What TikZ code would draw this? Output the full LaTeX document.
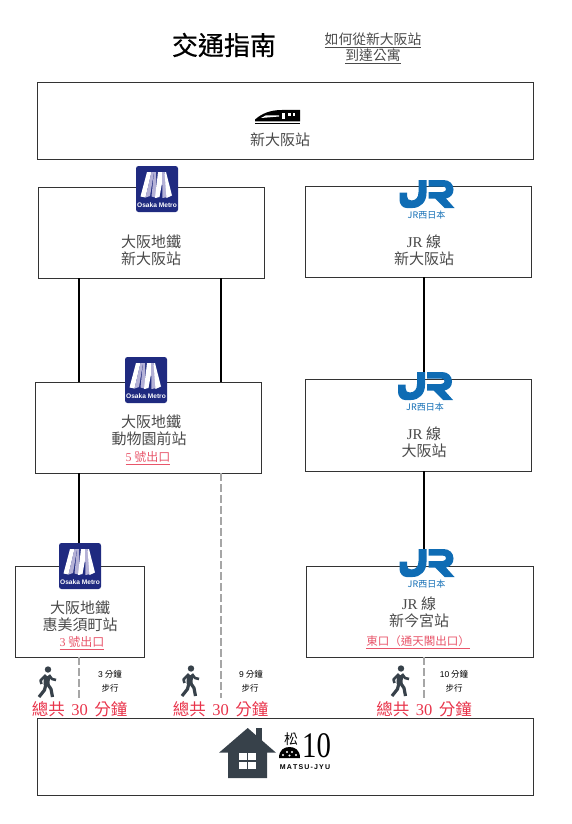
\documentclass[tikz,border=0pt]{standalone}
\usepackage{fontspec}
\setmainfont{Noto Sans CJK TC}
\newfontfamily\lat{Liberation Serif}
\newfontfamily\sanslat{Liberation Sans}
\newfontfamily\titlefont[FakeBold=0.6]{Noto Sans CJK TC}
\definecolor{navy}{HTML}{1F2A80}
\definecolor{lav}{HTML}{B4B1D6}
\definecolor{jrblue}{HTML}{0F6CB4}
\definecolor{slate}{HTML}{37414A}
\definecolor{redtxt}{HTML}{E8334A}
\definecolor{exttxt}{HTML}{E8556A}
\definecolor{greytxt}{HTML}{4A4A4A}
\newcommand{\fs}[1]{\fontsize{#1}{#1}\selectfont}
\newcommand{\ul}[1]{\underline{\raisebox{0pt}[\height][1.6pt]{#1}}}
\newcommand{\totaltext}{總共\hspace{6.5pt}{\lat 30}\hspace{6.5pt}分鐘}
\tikzset{
  x=1pt,y=-1pt,
  box/.style={draw=black!80,line width=1pt,fill=none,inner sep=0pt,outer sep=0pt},
  txt/.style={inner sep=0pt,outer sep=0pt,text=greytxt,font=\fs{15}},
  ext/.style={inner sep=0pt,outer sep=0pt,text=exttxt,font=\fs{12}},
  total/.style={inner sep=0pt,outer sep=0pt,text=redtxt,font=\fs{16.5}},
  mins/.style={inner sep=0pt,outer sep=0pt,text=black,font=\fs{8.5}},
  solidline/.style={draw=black,line width=2pt},
  walkline/.style={draw=black!35,line width=2pt,dash pattern=on 7.5pt off 3.5pt},
  metro/.pic={
    \fill[navy,rounded corners=2.5pt] (0,0) rectangle (42,46);
    \fill[white] (11,6) -- (15.5,6) -- (9.5,31.5) -- (4.5,30.5) -- cycle;
    \fill[lav] (15.5,6) -- (18,6) -- (14,30) -- (9.5,31.5) -- cycle;
    \fill[lav] (18,6) -- (20,6) -- (21,32) -- (15.5,30.5) -- cycle;
    \fill[white] (22,6) -- (28,6) -- (23.5,31) -- (19,32) -- cycle;
    \fill[lav] (26,6) -- (28.5,6) -- (31.5,31) -- (26.5,32) -- cycle;
    \fill[white] (28.5,6) -- (30,6) -- (36,29.5) -- (30.5,32) -- cycle;
    \node[inner sep=0pt,text=white,font=\sanslat\bfseries\fs{6.6}] (-t) at (21,39.5) {Osaka Metro};
  },
  jr/.pic={
    \fill[jrblue] (19,0) -- (27,0) -- (27,13) .. controls (27,22) and (21,28) .. (13,28) -- (7,28) .. controls (3,28) and (0,24) .. (0,20) -- (0,12.5) -- (7.5,12.5) -- (7.5,16) .. controls (7.5,19) and (9,20.5) .. (12,20.5) .. controls (16.5,20.5) and (19,17) .. (19,12) -- cycle;
    \fill[jrblue] (29,0) -- (44,0) .. controls (50,0) and (54,4) .. (54,9.5) .. controls (54,14.5) and (51,17.5) .. (46.5,18.5) -- (55,28) -- (45,28) -- (35.5,18.5) -- (29,18.5) -- (29,12) -- (43,12) .. controls (45.5,12) and (46.5,10.5) .. (46.5,9.25) .. controls (46.5,7.5) and (45.5,6.5) .. (43,6.5) -- (29,6.5) -- cycle;
    \node[inner sep=0pt,text=jrblue,font=\fs{9}] (-t) at (27,35) {JR西日本};
  },
  walker/.pic={
    \fill[slate] (1,-12.5) circle (3.2);
    \draw[slate,line width=6pt] (0,-6) -- (-0.5,3);
    \draw[slate,line width=2.6pt,line join=round] (-1,-7) -- (-6.5,-1.5) -- (-5.5,2);
    \draw[slate,line width=2.6pt,line join=round] (2,-7) -- (5,-3) -- (9,-2);
    \draw[slate,line width=3.2pt,line join=round] (-1,2) -- (-2.5,8) -- (-8,15);
    \draw[slate,line width=3.2pt,line join=round] (0.5,2) -- (4,7) -- (5.5,15);
  }
}
\begin{document}
\begin{tikzpicture}
\useasboundingbox (0,0) rectangle (572,824);
% boxes
\node[box,minimum width=496pt,minimum height=76pt] (A) at (285.5,121) {};
\node[box,minimum width=226pt,minimum height=91pt] (B) at (151.5,232.5) {};
\node[box,minimum width=226pt,minimum height=91pt] (C) at (418.8,231.5) {};
\node[box,minimum width=226pt,minimum height=91pt] (D) at (148.8,427.5) {};
\node[box,minimum width=226pt,minimum height=92pt] (E) at (418.8,425) {};
\node[box,minimum width=129pt,minimum height=91pt] (F) at (79.5,611.5) {};
\node[box,minimum width=227pt,minimum height=91pt] (G) at (420.3,611.5) {};
\node[box,minimum width=496pt,minimum height=77pt] (H) at (285.5,756.5) {};
% guides
\coordinate (c1) at (79,0);
\coordinate (c2) at (221,0);
\coordinate (c3) at (424,0);
\coordinate (w1) at (79,698);
\coordinate (w2) at (221,698);
\coordinate (w3) at (424,700);
% connectors
\draw[solidline] (B.south -| c1) -- (D.north -| c1);
\draw[solidline] (B.south -| c2) -- (D.north -| c2);
\draw[solidline] (D.south -| c1) -- (F.north -| c1);
\draw[solidline] (C.south -| c3) -- (E.north -| c3);
\draw[solidline] (E.south -| c3) -- (G.north -| c3);
\draw[walkline] (F.south -| c1) -- (w1);
\draw[walkline] (D.south -| c2) -- (w2);
\draw[walkline] (G.south -| c3) -- (w3);
% title
\node[inner sep=0pt,font=\titlefont\fs{26}] (title) at (224,45) {交通指南};
\node[inner sep=0pt,text=greytxt,font=\fs{13.8}] (sub1) at (373,40) {\ul{如何從新大阪站}};
\node[inner sep=0pt,text=greytxt,font=\fs{13.8}] (sub2) at (373,56) {\ul{到達公寓}};
% train
\fill[black] (255,119.5) .. controls (262,113.5) and (270,110) .. (282,110) -- (300,110) -- (300,121.5) -- (255,121.5) -- cycle;
\fill[white] (261,118) -- (279,116.5) -- (279,115.3) -- (266,115.3) -- cycle;
\fill[white] (282,113.5) rectangle (285,119);
\fill[white] (288,113.5) rectangle (290.5,116);
\fill[white] (292.5,113.5) rectangle (295,116);
\fill[black] (255,123) rectangle (300,124.5);
% texts
\node[txt] (tA) at (280,140) {新大阪站};
\node[txt] (tB1) at (151,242) {大阪地鐵};
\node[txt] (tB2) at (151,258.5) {新大阪站};
\node[txt] (tC1) at (424,242) {{\lat JR} 線};
\node[txt] (tC2) at (424,258.5) {新大阪站};
\node[txt] (tD1) at (151,422) {大阪地鐵};
\node[txt] (tD2) at (149,439) {動物園前站};
\node[ext] (tD3) at (148,458) {\ul{{\lat 5} 號出口}};
\node[txt] (tE1) at (424,434) {{\lat JR} 線};
\node[txt] (tE2) at (424,451) {大阪站};
\node[txt] (tF1) at (80,608) {大阪地鐵};
\node[txt] (tF2) at (80,625) {惠美須町站};
\node[ext] (tF3) at (82,643) {\ul{{\lat 3} 號出口}};
\node[txt] (tG1) at (419,604) {{\lat JR} 線};
\node[txt] (tG2) at (419,621) {新今宮站};
\node[ext,font=\fs{11.5}] (tG3) at (418,642) {\ul{東口（通天閣出口）}};
% logos
\pic (m1) at (136,166) {metro};
\pic (m2) at (125,357) {metro};
\pic (m3) at (59,543) {metro};
\pic (j1) at (399.5,180) {jr};
\pic (j2) at (398,372) {jr};
\pic (j3) at (399.5,549) {jr};
% walking
\pic (p1) at (47,682) {walker};
\pic (p2) at (190,681) {walker};
\pic (p3) at (400,681) {walker};
\node[mins] (m1a) at (110,674) {{\sanslat 3} 分鐘};
\node[mins] (m1b) at (110,688) {步行};
\node[mins] (m2a) at (251,674) {{\sanslat 9} 分鐘};
\node[mins] (m2b) at (250,688) {步行};
\node[mins] (m3a) at (454,674) {{\sanslat 10} 分鐘};
\node[mins] (m3b) at (454,688) {步行};
\node[total] (s1) at (79.5,709.5) {\totaltext};
\node[total] (s2) at (220.5,709.5) {\totaltext};
\node[total] (s3) at (424,709.5) {\totaltext};
% house
\fill[slate] (255.7,728) rectangle (262.3,745);
\fill[slate] (247.7,728) -- (276,752.7) -- (267,752.7) -- (267,778) -- (228,778) -- (228,752.7) -- (219,752.7) -- cycle;
\foreach \px/\py in {239/752.7,248/752.7,239/761.5,248/761.5}
  \fill[white] (\px,\py) rectangle ++(7.5,7.5);
% matsu logo
\node[inner sep=0pt,font=\fs{14}] (ms) at (291,739) {松};
\node[inner sep=0pt,font=\lat\fs{36},xscale=0.8] (ten) at (316.5,745.5) {10};
\fill[black] (279,758) .. controls (279,750) and (284,747) .. (289.5,747) .. controls (295,747) and (300,750) .. (300,758) -- cycle;
\fill[white] (283,755) circle (1.1) (287,752) circle (1.1) (292,752) circle (1.1) (296,755) circle (1.1) (289.5,755.5) circle (1.1);
\node[inner sep=0pt,font=\sanslat\bfseries\fs{7}] (mj) at (305,767.5) {M\,A\,T\,S\,U\,-\,J\,Y\,U};
\end{tikzpicture}
\end{document}
